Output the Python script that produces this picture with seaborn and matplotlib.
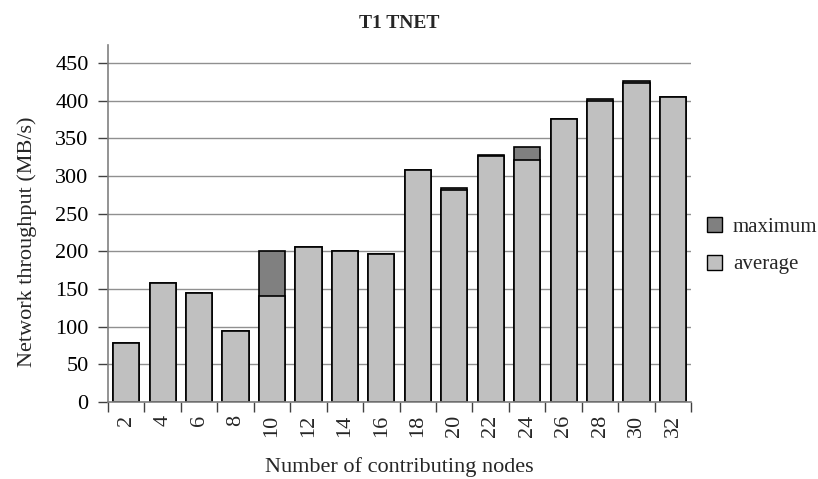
import matplotlib
matplotlib.use("Agg")
import matplotlib.pyplot as plt
import seaborn as sns
import pandas as pd
from matplotlib.patches import Patch
from matplotlib.ticker import FixedLocator

nodes = ["2", "4", "6", "8", "10", "12", "14", "16", "18", "20", "22", "24", "26", "28", "30", "32"]
average = [78, 158, 144, 94, 140, 206, 200, 196, 308, 281, 326, 321, 376, 400, 424, 405]
maximum = [78, 158, 144, 94, 200, 206, 200, 196, 308, 284, 328, 338, 376, 402, 426, 405]

sns.set_theme(style="white")
plt.rcParams['font.family'] = ['Liberation Serif', 'DejaVu Serif']

df = pd.DataFrame({"nodes": nodes, "average": average, "maximum": maximum})

fig = plt.figure(figsize=(8.18, 4.79), dpi=100)
ax = fig.add_axes([0.132, 0.161, 0.713, 0.745])

ax.set_axisbelow(True)
ax.yaxis.grid(True, color="#909090", linewidth=1.0)

sns.barplot(data=df, x="nodes", y="maximum", color="#808080", saturation=1,
            width=0.72, edgecolor="black", linewidth=1.2, ax=ax)
sns.barplot(data=df, x="nodes", y="average", color="#C0C0C0", saturation=1,
            width=0.72, edgecolor="black", linewidth=1.2, ax=ax)

ax.set_xlim(-0.5, len(nodes) - 0.5)
ax.set_ylim(0, 474)
ax.set_yticks(range(0, 451, 50))

for s in ["top", "right"]:
    ax.spines[s].set_visible(False)
for s in ["left", "bottom"]:
    ax.spines[s].set_color("#808080")
    ax.spines[s].set_linewidth(1.2)

ax.tick_params(axis="y", which="major", direction="out", length=7, width=1, color="#404040",
               labelsize=16, left=True, pad=7, labelcolor="black")
ax.xaxis.set_minor_locator(FixedLocator([i - 0.5 for i in range(len(nodes) + 1)]))
ax.tick_params(axis="x", which="major", length=0, labelsize=16, pad=9, labelrotation=90)
ax.tick_params(axis="x", which="minor", direction="out", length=7, width=1, color="#404040", bottom=True)

ax.set_xlabel("Number of contributing nodes", fontsize=16, labelpad=15)
ax.set_ylabel("Network throughput (MB/s)", fontsize=16)
ax.yaxis.set_label_coords(-0.122, 0.45)
ax.set_title("T1 TNET", fontsize=14, fontweight="bold", pad=12)

handles = [Patch(facecolor="#808080", edgecolor="black", linewidth=1),
           Patch(facecolor="#C0C0C0", edgecolor="black", linewidth=1)]
fig.legend(handles, ["maximum", "average"], loc="center left",
           bbox_to_anchor=(0.864, 0.487), frameon=False, fontsize=15, borderpad=0,
           borderaxespad=0, handlelength=0.75, handleheight=0.75, handletextpad=0.5,
           labelspacing=0.85)

fig.savefig("out.png", dpi=100)
